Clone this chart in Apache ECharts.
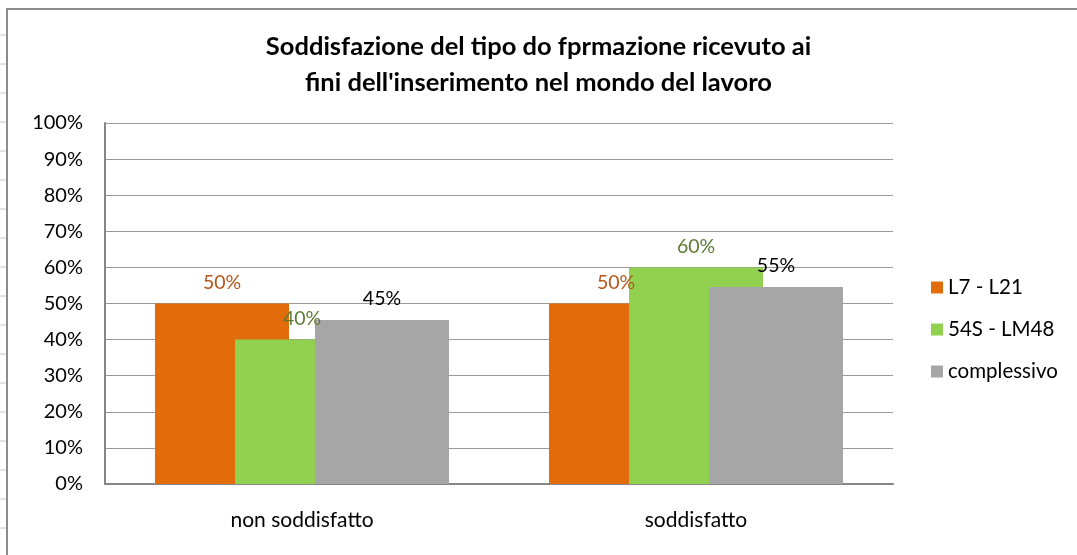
<!DOCTYPE html>
<html>
<head>
<meta charset="utf-8">
<script src="https://cdn.jsdelivr.net/npm/echarts@6/dist/echarts.min.js"></script>
<style>
    html, body { margin: 0; padding: 0; background: #fff; }
    #main { width: 1077px; height: 555px; }
</style>
</head>
<body>
<div id="main"></div>
<script>
var categories = ['non soddisfatto', 'soddisfatto'];
var seriesNames = ['L7 - L21', '54S - LM48', 'complessivo'];
var l7Values = [50, 50];
var lm48Values = [40, 60];
var complessivoValues = [45.45, 54.55];
var yTicks = [0, 10, 20, 30, 40, 50, 60, 70, 80, 90, 100];

var FONT = 'Lato, "Open Sans", sans-serif';

function Soddisfazione() {
    this.dom = document.getElementById('main');
    this.chart = echarts.init(this.dom);
}

Soddisfazione.prototype.barSeries = function (name, data, color, labelColor) {
    return {
        name: name,
        type: 'bar',
        data: data,
        barWidth: 134,
        barGap: '-40.3%',
        itemStyle: { color: color },
        label: {
            show: true,
            position: 'top',
            distance: 11,
            color: labelColor,
            fontFamily: FONT,
            fontSize: 19.5,
            formatter: function (p) {
                return Math.round(p.value) + '%';
            }
        }
    };
};

Soddisfazione.prototype.init = function () {
    var self = this;

    // spreadsheet gridlines peeking out on the left of the chart frame
    var sheetLines = [];
    for (var y = 35; y < 555; y += 29) {
        sheetLines.push({
            type: 'line',
            shape: { x1: 0, y1: y, x2: 6, y2: y },
            style: { stroke: '#c8c8c8', lineWidth: 1 }
        });
    }

    var option = {
        backgroundColor: '#ffffff',
        animation: false,
        title: {
            text: 'Soddisfazione del tipo do fprmazione ricevuto ai\nfini dell\'inserimento nel mondo del lavoro',
            left: 'center',
            top: 24,
            textStyle: {
                fontFamily: FONT,
                fontWeight: 'bold',
                fontSize: 25.5,
                lineHeight: 36,
                color: '#000'
            }
        },
        legend: {
            orient: 'vertical',
            left: 926,
            top: 272,
            icon: 'rect',
            itemWidth: 12,
            itemHeight: 12,
            itemGap: 21,
            textStyle: {
                fontFamily: FONT,
                fontSize: 20.5,
                lineHeight: 20,
                color: '#000'
            },
            data: seriesNames
        },
        grid: {
            left: 105,
            right: 184,
            top: 123,
            bottom: 71
        },
        xAxis: {
            type: 'category',
            data: categories,
            axisLine: { lineStyle: { color: '#868686', width: 2 } },
            axisTick: { show: false },
            axisLabel: {
                margin: 26,
                fontFamily: FONT,
                fontSize: 21,
                color: '#000'
            }
        },
        yAxis: {
            type: 'value',
            min: yTicks[0],
            max: yTicks[yTicks.length - 1],
            interval: 10,
            axisLine: { show: true, lineStyle: { color: '#868686', width: 2 } },
            axisTick: { show: false },
            splitLine: { lineStyle: { color: '#9a9a9a', width: 1 } },
            axisLabel: {
                margin: 22,
                fontFamily: FONT,
                fontSize: 20,
                color: '#000',
                formatter: '{value}%'
            }
        },
        graphic: sheetLines.concat([{
            type: 'rect',
            shape: { x: 7, y: 9, width: 1200, height: 700 },
            style: { fill: null, stroke: '#8c8c8c', lineWidth: 2 },
            silent: true
        }]),
        series: [
            self.barSeries(seriesNames[0], l7Values, '#E36C0A', '#B5561A'),
            self.barSeries(seriesNames[1], lm48Values, '#92D050', '#5E7A34'),
            self.barSeries(seriesNames[2], complessivoValues, '#A6A6A6', '#000000')
        ]
    };

    self.chart.setOption(option, true);
};

var chart = new Soddisfazione();
chart.init();
</script>
</body>
</html>
